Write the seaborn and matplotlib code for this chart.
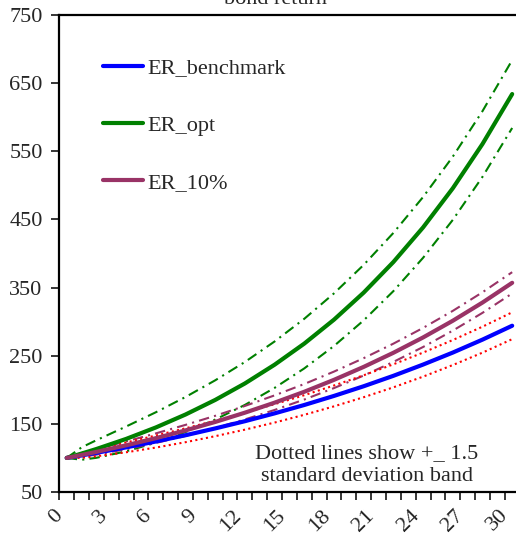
import matplotlib
matplotlib.use("Agg")
import matplotlib.pyplot as plt
import seaborn as sns
import pandas as pd
from matplotlib.ticker import FixedLocator, NullFormatter

# ---- data ----
years = [0, 1, 2, 4, 6, 8, 10, 12, 14, 16, 18, 20, 22, 24, 26, 28, 30]

er_benchmark = [100, 103.7, 107.5, 115.5, 124.1, 133.3, 143.3, 153.9, 165.4, 177.7, 191.0,
                205.2, 220.5, 237.0, 254.6, 273.6, 294.0]
bench_upper = [100, 107.3, 112.5, 122.7, 132.9, 143.5, 154.6, 166.4, 178.9, 192.1, 206.3,
               221.3, 237.4, 254.6, 273.0, 292.6, 313.7]
bench_lower = [100, 100.1, 102.4, 108.3, 115.2, 123.1, 131.9, 141.5, 151.9, 163.3, 175.7,
               189.1, 203.6, 219.3, 236.3, 254.5, 274.3]

er_opt = [100, 106.4, 113.1, 127.9, 144.7, 163.7, 185.1, 209.3, 236.8, 267.8, 302.9,
          342.6, 387.5, 438.3, 495.7, 560.7, 634.0]
opt_upper = [100, 115.5, 126.0, 146.1, 167.0, 189.4, 213.9, 240.8, 270.9, 304.2, 341.5,
             383.3, 430.2, 482.9, 542.1, 608.9, 683.8]
opt_lower = [100, 97.3, 100.2, 109.7, 122.4, 138.0, 156.3, 177.8, 202.8, 231.4, 264.3,
             301.9, 344.8, 393.7, 449.3, 512.5, 584.2]

er_10 = [100, 104.3, 108.9, 118.5, 129.0, 140.4, 152.8, 166.4, 181.1, 197.1, 214.6,
         233.6, 254.3, 276.8, 301.3, 328.0, 357.0]
p10_upper = [100, 107.2, 112.9, 124.2, 136.0, 148.5, 161.8, 176.3, 191.8, 208.5, 226.7,
             246.4, 267.7, 290.8, 315.8, 343.1, 372.6]
p10_lower = [100, 101.5, 104.9, 112.8, 122.0, 132.3, 143.8, 156.5, 170.4, 185.7, 202.5,
             220.9, 240.9, 262.8, 286.8, 312.9, 341.4]

x_tick_labels = ["0", "3", "6", "9", "12", "15", "18", "21", "24", "27", "30"]
y_ticks = [50, 150, 250, 350, 450, 550, 650, 750]

title_text = "bond return"
note_text = "Dotted lines show +_ 1.5\nstandard deviation band"

# ---- styling ----
sns.set_style("white")
plt.rcParams["font.family"] = ["Liberation Serif", "DejaVu Serif"]
FS = 16
plt.rcParams["font.size"] = FS

BLUE = "#0000FF"
GREEN = "#008000"
PURPLE = "#993366"
RED = "#FF0000"

dashdot = (0, (5, 2.5, 1, 2.5))
dotted = (0, (1, 1.6))

fig = plt.figure(figsize=(5.16, 5.54), dpi=100)
ax = fig.add_axes([59.3 / 516, 62 / 554, 460.3 / 516, 477 / 554])

df = pd.DataFrame({
    "year": years,
    "ER_benchmark": er_benchmark, "b_up": bench_upper, "b_lo": bench_lower,
    "ER_opt": er_opt, "o_up": opt_upper, "o_lo": opt_lower,
    "ER_10%": er_10, "p_up": p10_upper, "p_lo": p10_lower,
})

band_lw = 1.5
main_lw = 3.0

# bands
sns.lineplot(data=df, x="year", y="o_up", color=GREEN, lw=band_lw, linestyle=dashdot, ax=ax, legend=False)
sns.lineplot(data=df, x="year", y="o_lo", color=GREEN, lw=band_lw, linestyle=dashdot, ax=ax, legend=False)
sns.lineplot(data=df, x="year", y="p_up", color=PURPLE, lw=band_lw, linestyle=dashdot, ax=ax, legend=False)
sns.lineplot(data=df, x="year", y="p_lo", color=PURPLE, lw=band_lw, linestyle=dashdot, ax=ax, legend=False)
sns.lineplot(data=df, x="year", y="b_up", color=RED, lw=band_lw, linestyle=dotted, ax=ax, legend=False)
sns.lineplot(data=df, x="year", y="b_lo", color=RED, lw=band_lw, linestyle=dotted, ax=ax, legend=False)

# main lines
sns.lineplot(data=df, x="year", y="ER_benchmark", color=BLUE, lw=main_lw, ax=ax, label="ER_benchmark")
sns.lineplot(data=df, x="year", y="ER_opt", color=GREEN, lw=main_lw, ax=ax, label="ER_opt")
sns.lineplot(data=df, x="year", y="ER_10%", color=PURPLE, lw=main_lw, ax=ax, label="ER_10%")

ax.set_xlim(-0.5, 30.5)
ax.set_ylim(50, 750)
ax.set_xlabel("")
ax.set_ylabel("")

ax.set_yticks(y_ticks)
ax.set_yticklabels([str(v) for v in y_ticks])
ax.tick_params(axis="y", direction="out", length=6, width=1.3, pad=6, labelsize=FS, left=True)

xt = [int(s) for s in x_tick_labels]
ax.set_xticks(xt)
ax.set_xticklabels(x_tick_labels, rotation=45, ha="right", va="top")
ax.tick_params(axis="x", which="major", length=0, pad=10, labelsize=FS, bottom=True)
ax.xaxis.set_minor_locator(FixedLocator([i - 0.5 for i in range(0, 32)]))
ax.xaxis.set_minor_formatter(NullFormatter())
ax.tick_params(axis="x", which="minor", direction="out", length=6, width=1.3, bottom=True)

for side in ["left", "bottom", "top"]:
    ax.spines[side].set_visible(True)
    ax.spines[side].set_color("black")
    ax.spines[side].set_linewidth(1.6)
ax.spines["right"].set_visible(False)

leg = ax.legend(loc="upper left", bbox_to_anchor=(0.095, 0.91), frameon=False,
                handlelength=1.8, handletextpad=0.2, labelspacing=1.65,
                borderpad=0, borderaxespad=0, fontsize=FS)

ax.text(0.668, 0.057, note_text, transform=ax.transAxes, ha="center", va="center",
        multialignment="center", linespacing=1.3, fontsize=FS)

fig.text(275 / 516, 1 - 4 / 554, title_text, ha="center", va="baseline", fontsize=FS)

fig.savefig("out.png", dpi=100)
